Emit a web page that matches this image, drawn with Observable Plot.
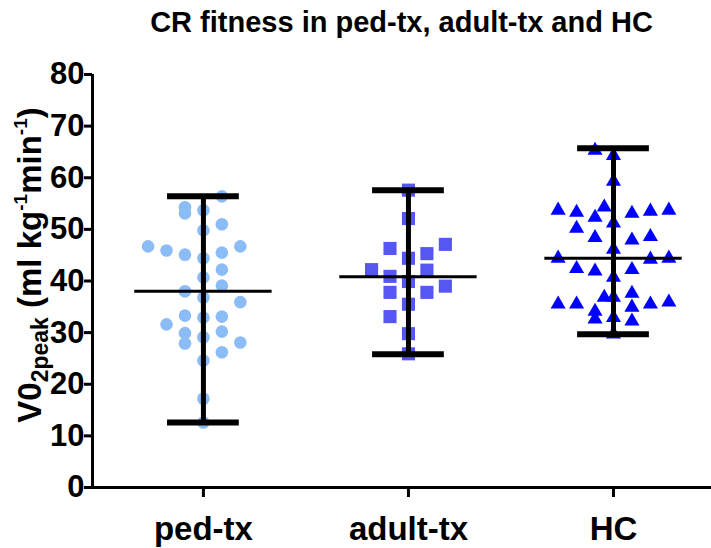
<!DOCTYPE html>
<html><head><meta charset="utf-8">
<script src="https://cdn.jsdelivr.net/npm/d3@7"></script>
<script src="https://cdn.jsdelivr.net/npm/@observablehq/plot@0.6"></script>
<style>
body{margin:0;background:#fff;font-family:"Liberation Sans",Arial,sans-serif;}
#wrap{position:relative;width:711px;height:548px;}
#title{position:absolute;top:8px;left:92px;width:619px;text-align:center;font-weight:bold;font-size:29px;line-height:1;color:#000;white-space:nowrap;}
#ylab{position:absolute;left:29px;top:265px;transform:translate(-50%,-50%) rotate(-90deg);white-space:nowrap;font-weight:bold;font-size:33px;line-height:1;color:#000;}
#ylab sub{font-size:23px;vertical-align:-7px;line-height:0;}
#ylab sup{font-size:19px;vertical-align:14px;line-height:0;}
#chart{position:absolute;left:0;top:0;}
</style></head><body>
<div id="wrap"><div id="chart"></div><div id="title">CR fitness in ped-tx, adult-tx and HC</div><div id="ylab">V0<sub>2peak</sub> (ml kg<sup>-1</sup>min<sup>-1</sup>)</div></div>
<script>
const groups = ["ped-tx", "adult-tx", "HC"];
const colors = ["#8cbcf5", "#5656f2", "#0000ff"];
const yTicks = [0, 10, 20, 30, 40, 50, 60, 70, 80];

// ped-tx values and the column each dot sits in
const pedValues = [56.4, 54.3, 53.1, 53.7, 51.0, 49.8, 46.7, 45.9, 45.1, 44.4, 45.5, 46.7, 42.2, 40.7, 39.1, 38.0, 36.8, 35.9, 33.3, 32.9, 33.1, 31.6, 29.9, 29.1, 30.2, 27.9, 28.1, 26.2, 24.6, 17.2, 12.6];
const pedSlots  = [1, -1, -1, 0, 1, 0, -3, -2, -1, 0, 1, 2, 1, 0, 1, -1, 0, 2, -1, 0, 1, -2, -1, 0, 1, -1, 2, 1, 0, 0, 0];

const adultValues = [57.6, 52.1, 46.3, 47.1, 45.3, 44.4, 42.2, 40.9, 42.1, 39.9, 37.8, 39.0, 37.8, 35.5, 33.1, 29.8, 25.9];
const adultSlots  = [0, 0, -1, 2, 1, 0, -2, -1, 1, 0, -1, 2, 1, 0, -1, 0, 0];

const hcValues = [65.3, 64.3, 59.3, 53.7, 53.3, 54.3, 52.3, 53.1, 53.5, 53.7, 51.2, 50.2, 48.4, 47.9, 48.6, 46.1, 44.4, 44.2, 44.4, 42.4, 41.9, 42.2, 40.7, 36.8, 36.8, 37.6, 35.5, 35.5, 35.5, 35.9, 34.9, 34.1, 32.6, 32.9, 32.2, 29.7];
const hcSlots  = [-1, 0, 0, -3, -2, -0.5, -1, 1, 2, 3, 0, -2, -1, 1, 2, 0, -3, 2, 3, -2, -1, 1, 0, -0.5, 0, 1, -3, -2, 2, 3, 1, -1, -1, 0, 1, 0];

// summary lines: mean and range
const means = [38.0, 40.8, 44.4];
const maxs  = [56.4, 57.6, 65.7];
const mins  = [12.6, 25.8, 29.7];

const xDomain = [0.459, 3.478];
const slotStep = 0.09;
const capHalf = 0.175;
const meanHalf = 0.335;

function pts(values, slots, gi) {
  return values.map((v, i) => ({x: gi + 1 + slots[i] * slotStep, y: v}));
}
const stats = groups.map((g, i) => ({g: i + 1, mean: means[i], max: maxs[i], min: mins[i]}));

const plot = Plot.plot({
  width: 711,
  height: 548,
  marginLeft: 92,
  marginRight: 0,
  marginTop: 74,
  marginBottom: 61,
  style: {fontFamily: "'Liberation Sans', Arial, sans-serif", fontSize: "31px", fontWeight: "bold", color: "#000", background: "transparent"},
  x: {type: "linear", domain: xDomain, axis: null},
  y: {domain: [0, 80], axis: null},
  marks: [
    Plot.dot(pts(pedValues, pedSlots, 0), {x: "x", y: "y", r: 6.3, fill: colors[0], symbol: "circle"}),
    Plot.dot(pts(adultValues, adultSlots, 1), {x: "x", y: "y", r: 7.4, fill: colors[1], symbol: "square"}),
    Plot.dot(pts(hcValues, hcSlots, 2), {x: "x", y: "y", r: 5.6, fill: colors[2], symbol: "triangle"}),
    Plot.ruleX(stats, {x: "g", y1: "min", y2: "max", stroke: "#000", strokeWidth: 5}),
    Plot.ruleY(stats, {y: "max", x1: d => d.g - capHalf, x2: d => d.g + capHalf, stroke: "#000", strokeWidth: 6}),
    Plot.ruleY(stats, {y: "min", x1: d => d.g - capHalf, x2: d => d.g + capHalf, stroke: "#000", strokeWidth: 6}),
    Plot.ruleY(stats, {y: "mean", x1: d => d.g - meanHalf, x2: d => d.g + meanHalf, stroke: "#000", strokeWidth: 3}),
    Plot.axisY({ticks: yTicks, tickSize: 8, tickPadding: 0, strokeWidth: 3, label: null, fontSize: 31, fontWeight: "bold"}),
    Plot.axisX({ticks: [1, 2, 3], tickFormat: d => groups[d - 1], tickSize: 10, tickPadding: 19, strokeWidth: 3, label: null, fontSize: 33, fontWeight: "bold"}),
    Plot.ruleY([0], {stroke: "#000", strokeWidth: 3}),
    Plot.ruleX([xDomain[0]], {stroke: "#000", strokeWidth: 3})
  ]
});
document.getElementById("chart").appendChild(plot);
</script>
</body></html>
